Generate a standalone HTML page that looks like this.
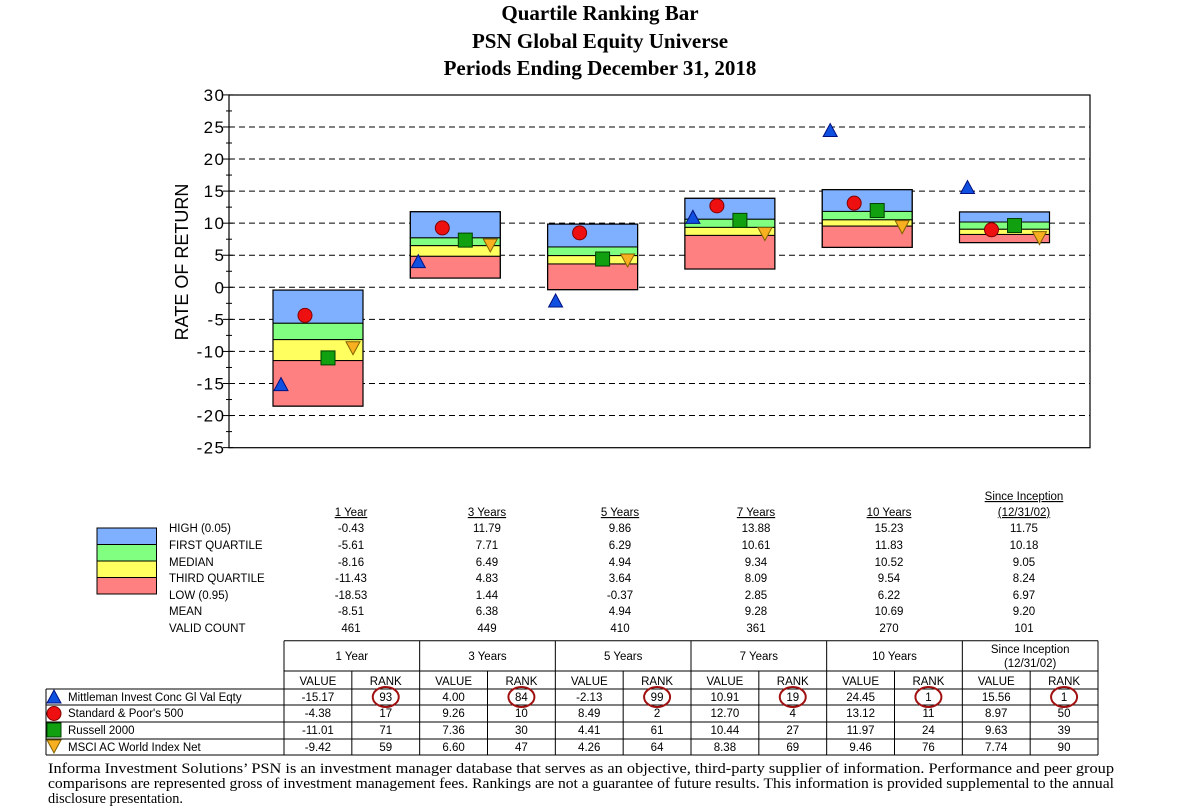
<!DOCTYPE html>
<html><head><meta charset="utf-8"><style>
html,body{margin:0;padding:0;background:#fff;width:1194px;height:810px;overflow:hidden}
svg{display:block}
.t{font-family:"Liberation Serif",serif;font-weight:bold;font-size:21px}
.s{font-family:"Liberation Sans",sans-serif}
</style></head><body>
<svg id="root" width="1194" height="810" xmlns="http://www.w3.org/2000/svg">
<g text-anchor="middle" class="t">
<text x="600" y="20">Quartile Ranking Bar</text>
<text x="600" y="48">PSN Global Equity Universe</text>
<text x="600" y="75">Periods Ending December 31, 2018</text>
</g>
<g id="chart"></g>
<g id="stats"></g>
<g id="ranks"></g>
<g font-family="Liberation Serif, serif" font-size="14.3">
<text x="48" y="773" textLength="1066" lengthAdjust="spacingAndGlyphs">Informa Investment Solutions’ PSN is an investment manager database that serves as an objective, third-party supplier of information.  Performance and peer group</text>
<text x="48" y="788" textLength="1066" lengthAdjust="spacingAndGlyphs">comparisons are represented gross of investment management fees.  Rankings are not a guarantee of future results. This information is provided supplemental to the annual</text>
<text x="48" y="803">disclosure presentation.</text>
</g>
</svg>
<script>
const periods=["1 Year","3 Years","5 Years","7 Years","10 Years","Since Inception"];
const high=[-0.43,11.79,9.86,13.88,15.23,11.75];
const q1=[-5.61,7.71,6.29,10.61,11.83,10.18];
const median=[-8.16,6.49,4.94,9.34,10.52,9.05];
const q3=[-11.43,4.83,3.64,8.09,9.54,8.24];
const low=[-18.53,1.44,-0.37,2.85,6.22,6.97];
const mean=[-8.51,6.38,4.94,9.28,10.69,9.20];
const validCount=[461,449,410,361,270,101];
const seriesNames=["Mittleman Invest Conc Gl Val Eqty","Standard & Poor's 500","Russell 2000","MSCI AC World Index Net"];
const mittleman=[-15.17,4.00,-2.13,10.91,24.45,15.56];
const sp500=[-4.38,9.26,8.49,12.70,13.12,8.97];
const russell=[-11.01,7.36,4.41,10.44,11.97,9.63];
const msci=[-9.42,6.60,4.26,8.38,9.46,7.74];
const mittlemanRank=[93,84,99,19,1,1];
const sp500Rank=[17,10,2,4,11,50];
const russellRank=[71,30,61,27,24,39];
const msciRank=[59,47,64,69,76,90];
const yTicks=[30,25,20,15,10,5,0,-5,-10,-15,-20,-25];

const NS="http://www.w3.org/2000/svg";
function mk(tag,attrs,parent,txt){const e=document.createElementNS(NS,tag);for(const k in attrs)e.setAttribute(k,attrs[k]);if(txt!==undefined)e.textContent=txt;parent.appendChild(e);return e;}
const y=v=>287.3-v*6.413;
const gx=i=>273+i*137.3;
const chart=document.getElementById('chart');
yTicks.forEach(v=>{
  if(v!==30&&v!==-25){const l=mk('line',{x1:229,x2:1090,y1:y(v),y2:y(v),stroke:'#000','stroke-dasharray':'6,4','stroke-width':1},chart);
  
  }
  const t=mk('text',{x:224,y:y(v)+6,'text-anchor':'end','font-size':17,class:'s'},chart,String(v).split('').join(String.fromCharCode(8202)));
  
  
  mk('line',{x1:223,x2:233,y1:y(v),y2:y(v),stroke:'#000'},chart);
  if(v>-25)mk('line',{x1:226,x2:232,y1:y(v-2.5),y2:y(v-2.5),stroke:'#000'},chart);
});
periods.forEach((p,i)=>{
  const x=gx(i),w=90;
  const g=mk('g',{},chart);
  
  
  const bands=[[high[i],q1[i],'#7fb0ff'],[q1[i],median[i],'#80ff80'],[median[i],q3[i],'#ffff60'],[q3[i],low[i],'#ff8080']];
  bands.forEach(b=>mk('rect',{x:x,y:y(b[0]),width:w,height:y(b[1])-y(b[0]),fill:b[2],stroke:'#000','stroke-width':1},g));
  mk('rect',{x:x,y:y(high[i]),width:w,height:y(low[i])-y(high[i]),fill:'none',stroke:'#000','stroke-width':1.2},g);
  let cx=x+8,cy=y(mittleman[i]);
  const m1=mk('polygon',{points:`${cx-7},${cy+6} ${cx},${cy-7} ${cx+7},${cy+6}`,fill:'#1050e0',stroke:'#001080'},g);
  
  
  const m2=mk('circle',{cx:x+32,cy:y(sp500[i]),r:7,fill:'#ee1010',stroke:'#800000'},g);
  
  
  const m3=mk('rect',{x:x+55-7,y:y(russell[i])-7,width:14,height:14,fill:'#10a010',stroke:'#004000'},g);
  
  
  cx=x+80;cy=y(msci[i]);
  const m4=mk('polygon',{points:`${cx-7},${cy-6} ${cx+7},${cy-6} ${cx},${cy+7}`,fill:'#f8b020',stroke:'#806000'},g);
  
  
});
mk('rect',{x:229,y:95,width:861,height:352.7,fill:'none',stroke:'#000','stroke-width':1.2},chart);
const yt=mk('text',{x:0,y:0,transform:'translate(188,262) rotate(-90)','text-anchor':'middle','font-size':18,class:'s'},chart,'RATE OF RETURN');



const st=document.getElementById('stats');
const colX=[351,487,620,756,889,1024];
[['#7fb0ff',528],['#80ff80',544.5],['#ffff60',561],['#ff8080',577.5]].forEach(c=>mk('rect',{x:97,y:c[1],width:59.5,height:16.5,fill:c[0],stroke:'#000'},st));
const rowLabels=["HIGH (0.05)","FIRST QUARTILE","MEDIAN","THIRD QUARTILE","LOW (0.95)","MEAN","VALID COUNT"];
const rowY=[532,549,566,582,599,615,632];
const rowsData=[high,q1,median,q3,low,mean];
rowLabels.forEach((l,r)=>{
  const t=mk('text',{x:169,y:rowY[r],'font-size':11.5,class:'s'},st,l);
  
  
});
periods.forEach((p,i)=>{
  if(i<5){mk('text',{x:colX[i],y:516,'text-anchor':'middle','font-size':11.5,class:'s','text-decoration':'underline'},st,p);}
  else{mk('text',{x:colX[i],y:500,'text-anchor':'middle','font-size':11.5,class:'s','text-decoration':'underline'},st,'Since Inception');
       mk('text',{x:colX[i],y:516,'text-anchor':'middle','font-size':11.5,class:'s','text-decoration':'underline'},st,'(12/31/02)');}
  rowsData.forEach((arr,r)=>mk('text',{x:colX[i],y:rowY[r],'text-anchor':'middle','font-size':11.5,class:'s'},st,arr[i].toFixed(2)));
  mk('text',{x:colX[i],y:rowY[6],'text-anchor':'middle','font-size':11.5,class:'s'},st,String(validCount[i]));
});

const rt=document.getElementById('ranks');
const left=284,right=1098,cw=(right-left)/6;
mk('line',{x1:left,x2:right,y1:640.7,y2:640.7,stroke:'#000'},rt);
mk('line',{x1:left,x2:right,y1:671,y2:671,stroke:'#000'},rt);
[689,705,722,739,755].forEach(v=>mk('line',{x1:46,x2:right,y1:v,y2:v,stroke:'#000'},rt));
mk('line',{x1:46,x2:46,y1:689,y2:755,stroke:'#000'},rt);
for(let i=0;i<=6;i++)mk('line',{x1:left+i*cw,x2:left+i*cw,y1:640.7,y2:755,stroke:'#000'},rt);
for(let i=0;i<6;i++)mk('line',{x1:left+i*cw+cw/2,x2:left+i*cw+cw/2,y1:671,y2:755,stroke:'#000'},rt);
const vals=[mittleman,sp500,russell,msci],ranks=[mittlemanRank,sp500Rank,russellRank,msciRank];
const rowTy=[701,717,734,751];
periods.forEach((p,i)=>{
  const cx=left+i*cw+cw/2;
  if(i<5)mk('text',{x:cx,y:660,'text-anchor':'middle','font-size':11.5,class:'s'},rt,p);
  else{mk('text',{x:cx,y:653,'text-anchor':'middle','font-size':11.5,class:'s'},rt,'Since Inception');
       mk('text',{x:cx,y:667,'text-anchor':'middle','font-size':11.5,class:'s'},rt,'(12/31/02)');}
  mk('text',{x:cx-cw/4,y:685,'text-anchor':'middle','font-size':11.5,class:'s'},rt,'VALUE');
  mk('text',{x:cx+cw/4,y:685,'text-anchor':'middle','font-size':11.5,class:'s'},rt,'RANK');
  vals.forEach((arr,r)=>{
    mk('text',{x:cx-cw/4,y:rowTy[r],'text-anchor':'middle','font-size':11.5,class:'s'},rt,arr[i].toFixed(2));
    mk('text',{x:cx+cw/4,y:rowTy[r],'text-anchor':'middle','font-size':11.5,class:'s'},rt,String(ranks[r][i]));
  });
  const c=mk('ellipse',{cx:cx+cw/4,cy:697,rx:13,ry:10,fill:'none',stroke:'#a01010','stroke-width':2},rt);
  
  
});
seriesNames.forEach((n,r)=>{
  const t=mk('text',{x:68,y:rowTy[r],'font-size':11.5,class:'s'},rt,n);
  
  
});
mk('polygon',{points:'47,703 54,690 61,703',fill:'#1050e0',stroke:'#001080'},rt);
mk('circle',{cx:54,cy:713.5,r:7,fill:'#ee1010',stroke:'#800000'},rt);
mk('rect',{x:47,y:723,width:14,height:14,fill:'#10a010',stroke:'#004000'},rt);
mk('polygon',{points:'47,740 61,740 54,753',fill:'#f8b020',stroke:'#806000'},rt);
</script>
</body></html>
